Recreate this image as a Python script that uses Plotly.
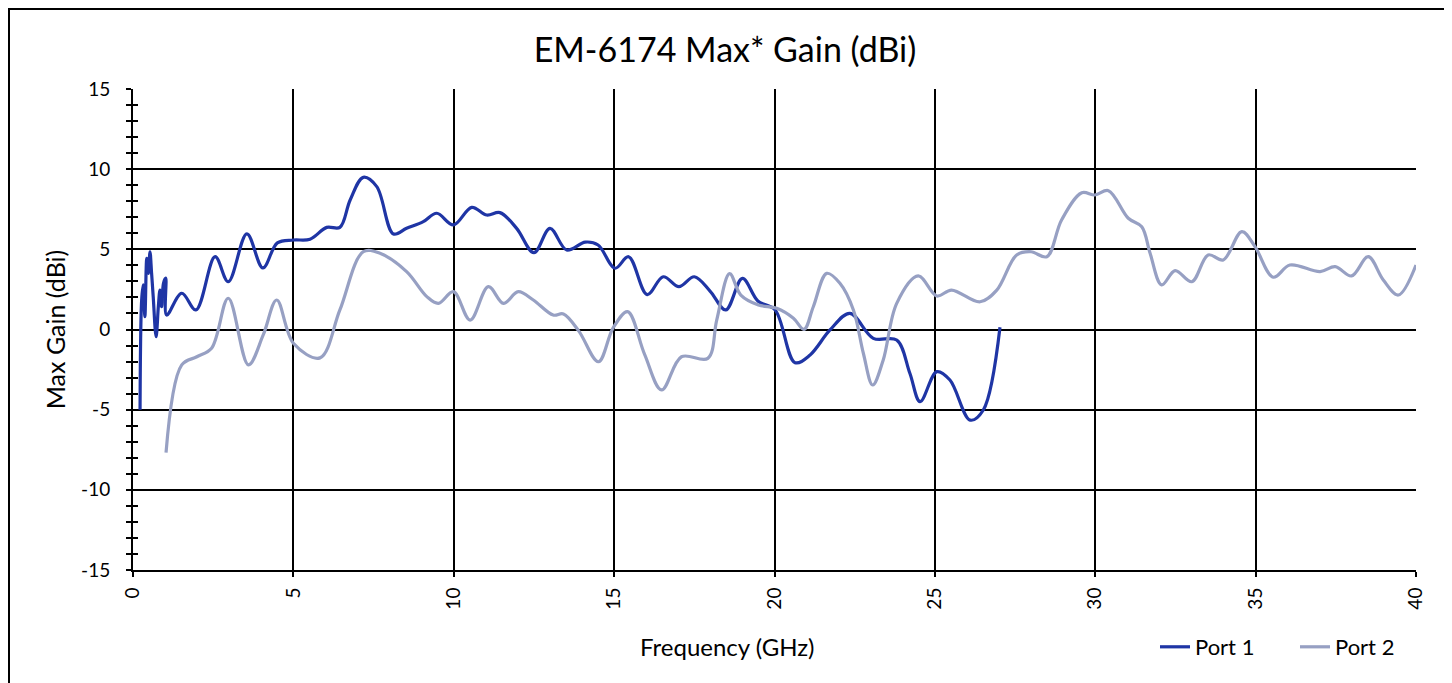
import plotly.graph_objects as go

# ---- data ----
freq_port1 = [0.22, 0.27, 0.32, 0.37, 0.43, 0.48, 0.53, 0.58, 0.63, 0.72, 0.79, 0.84, 0.89, 0.95,
              1.02, 1.05, 1.52, 1.96, 2.56, 2.97, 3.55, 4.05, 4.5, 5.0, 5.52, 6.04, 6.45, 6.77,
              7.18, 7.6, 8.12, 8.53, 9.05, 9.47, 9.99, 10.56, 11.03, 11.44, 11.96, 12.5, 13.0,
              13.52, 14.1, 14.5, 15.03, 15.45, 16.03, 16.53, 17.02, 17.5, 17.99, 18.48, 19.0,
              19.48, 20.02, 20.64, 21.11, 21.73, 22.35, 23.08, 23.81, 24.22, 24.54, 25.06,
              25.47, 26.1, 26.51, 27.03]
gain_port1 = [-5.0, 1.84, 2.78, 0.8, 4.44, 3.5, 4.85, 3.5, 2.05, -0.45, 1.42, 2.46, 1.42, 2.88,
              3.2, 0.9, 2.26, 1.22, 4.54, 2.98, 5.96, 3.84, 5.4, 5.58, 5.63, 6.37, 6.37, 8.08,
              9.49, 8.91, 5.96, 6.31, 6.73, 7.25, 6.52, 7.62, 7.14, 7.29, 6.31, 4.79, 6.31,
              4.96, 5.45, 5.27, 3.82, 4.54, 2.18, 3.29, 2.67, 3.29, 2.4, 1.22, 3.19,
              1.78, 1.22, -2.07, -1.59, -0.03, 1.01, -0.55, -0.66, -2.73, -4.5, -2.63,
              -3.15, -5.65, -5.02, 0.14]

freq_port2 = [1.03, 1.52, 1.99, 2.45, 2.97, 3.6, 4.06, 4.48, 5.0, 5.83, 6.45, 7.18, 7.7, 8.53,
              9.16, 9.52, 9.99, 10.51, 11.08, 11.55, 12.01, 12.48, 13.1, 13.42, 13.9, 14.51,
              14.97, 15.42, 15.95, 16.48, 17.1, 17.92, 18.2, 18.6, 18.95, 19.5, 20.07, 20.59,
              20.92, 21.21, 21.63, 22.04, 22.46, 22.77, 23.06, 23.39, 23.81, 24.48, 25.06,
              25.52, 26.41, 26.93, 27.55, 28.0, 28.49, 28.95, 29.58, 29.99, 30.41, 31.03,
              31.45, 31.71, 32.07, 32.49, 33.01, 33.52, 33.99, 34.57, 34.98, 35.55, 36.07,
              37.01, 37.48, 37.99, 38.51, 38.98, 39.45, 40.0]
gain_port2 = [-7.68, -2.21, -1.7, -1.17, 1.95, -2.21, -0.34, 1.84, -0.86, -1.77, 1.22, 4.85, 4.75, 3.61,
              2.05, 1.63, 2.36, 0.59, 2.67, 1.63, 2.36, 1.84, 0.9, 0.97, -0.1, -2.01,
              0.1, 1.11, -1.55, -3.77, -1.7, -1.8, 0.6, 3.48, 2.15, 1.53, 1.32, 0.7,
              0.01, 1.42, 3.5, 2.88, 1.22, -1.48, -3.46, -1.9, 1.63, 3.34, 2.09,
              2.46, 1.73, 2.46, 4.65, 4.85, 4.54, 6.83, 8.53, 8.39, 8.66, 6.94,
              6.41, 4.75, 2.78, 3.67, 2.98, 4.65, 4.34, 6.1, 5.17, 3.26, 4.02,
              3.61, 3.92, 3.34, 4.54, 3.09, 2.15, 4.02]

series_names = ["Port 1", "Port 2"]
x_ticks = [0, 5, 10, 15, 20, 25, 30, 35, 40]
x_tick_labels = ["0", "5", "10", "15", "20", "25", "30", "35", "40"]
y_ticks = [-15, -10, -5, 0, 5, 10, 15]
y_tick_labels = ["-15", "-10", "-5", "0", "5", "10", "15"]

FONT = "Lato"
W, H = 1452, 683
ML, MR, MT, MB = 125, 44, 81, 121
PW, PH = W - ML - MR, H - MT - MB

fig = go.Figure()
fig.add_trace(go.Scatter(x=freq_port1, y=gain_port1, mode="lines", name=series_names[0],
                         line=dict(color="#1F35A5", width=3.2, shape="spline", smoothing=1.0)))
fig.add_trace(go.Scatter(x=freq_port2, y=gain_port2, mode="lines", name=series_names[1],
                         line=dict(color="#97A0C3", width=3.2, shape="spline", smoothing=1.0)))
# dummy trace so that the overlay axes (inner half of crossing ticks) are drawn
fig.add_trace(go.Scatter(x=[None], y=[None], xaxis="x2", yaxis="y2", showlegend=False,
                         hoverinfo="skip"))

fig.update_layout(
    width=W, height=H,
    margin=dict(l=ML, r=MR, t=MT, b=MB),
    paper_bgcolor="white", plot_bgcolor="white",
    font=dict(family=FONT, color="black", size=18),
    title=dict(text="EM-6174 Max* Gain (dBi)", x=(725 - 8) / W, xanchor="center", y=1 - 42 / H,
               yanchor="middle", font=dict(family=FONT, size=34, color="black")),
    xaxis=dict(range=[0, 40], tickvals=x_ticks, ticktext=x_tick_labels,
               tickangle=-90, showgrid=True, gridcolor="black", gridwidth=1.5,
               showline=True, linecolor="black", linewidth=2, ticks="outside", ticklen=5,
               tickcolor="black", tickwidth=1.5, zeroline=False, ticklabelstandoff=3,
               tickfont=dict(size=19)),
    yaxis=dict(range=[-15, 15], tickvals=y_ticks, ticktext=y_tick_labels,
               showgrid=True, gridcolor="black", gridwidth=1.5,
               showline=True, linecolor="black", linewidth=2, ticks="outside", ticklen=5,
               tickcolor="black", tickwidth=1.5, zeroline=False, ticklabelstandoff=12,
               minor=dict(dtick=1, ticks="outside", ticklen=5, tickcolor="black", tickwidth=1.5,
                          showgrid=False),
               tickfont=dict(size=19),
               title=dict(text="Max Gain (dBi)", font=dict(size=25), standoff=8)),
    xaxis2=dict(range=[0, 40], overlaying="x", side="bottom", tickvals=x_ticks,
                showticklabels=False, showgrid=False, showline=False, zeroline=False,
                ticks="inside", ticklen=5, tickcolor="black", tickwidth=1.5),
    yaxis2=dict(range=[-15, 15], overlaying="y", side="left", tickvals=y_ticks,
                showticklabels=False, showgrid=False, showline=False, zeroline=False,
                ticks="inside", ticklen=5, tickcolor="black", tickwidth=1.5,
                minor=dict(dtick=1, ticks="inside", ticklen=5, tickcolor="black", tickwidth=1.5)),
    legend=dict(orientation="h", x=(1147 - ML) / PW, xanchor="left", y=(PH + MT - 639) / PH,
                yanchor="middle", font=dict(size=22), bgcolor="rgba(0,0,0,0)",
                entrywidth=95),
    showlegend=True,
)

# x-axis title, centred on the chart area as in the reference
fig.add_annotation(text="Frequency (GHz)", xref="paper", yref="paper",
                   x=(727 - 8 - ML) / PW, y=(PH + MT - 638) / PH, xanchor="center",
                   yanchor="middle", showarrow=False, font=dict(size=24, family=FONT))

# outer chart-area border
fig.add_shape(type="rect", xref="paper", yref="paper",
              x0=(1 - ML) / PW, x1=(1438 - ML) / PW,
              y0=(PH + MT - 679) / PH, y1=(PH + MT - 1) / PH,
              line=dict(color="black", width=2), fillcolor="rgba(0,0,0,0)", layer="below")

fig.write_html("out.html")
